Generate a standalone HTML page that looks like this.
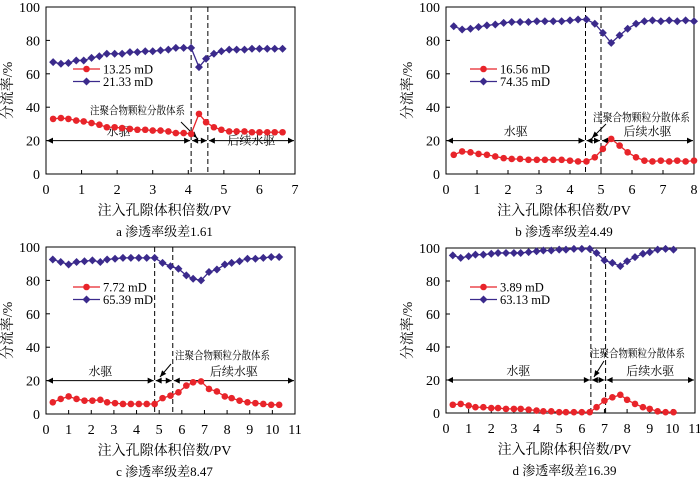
<!DOCTYPE html>
<html><head><meta charset="utf-8">
<style>
body{margin:0;background:#fff;}
svg{display:block;font-family:"Liberation Serif","Noto Serif CJK SC",serif;}
</style></head>
<body>
<svg id="c" width="700" height="479" viewBox="0 0 700 479" xmlns="http://www.w3.org/2000/svg"></svg>
<script>
// Panel a
const aX=[0.2,0.42,0.63,0.85,1.06,1.28,1.5,1.71,1.93,2.14,2.36,2.57,2.79,3.0,3.22,3.44,3.65,3.87,4.08,4.3,4.5,4.72,4.93,5.15,5.36,5.58,5.79,6.0,6.22,6.43,6.65];
const aRed=[33,33.5,33,32,31.5,30.5,29.5,28,28,27.5,27,26.5,26.5,26,26,25.5,24.5,24.5,24,36,31,28,26.5,25.5,25.5,25.5,25,25,25,25,25];
const aBlue=[67,66,66.5,68,68,69.5,70.5,72,72,72,73,73,73.5,73.5,74,74.5,75.5,75.5,75.5,64,69,72,73.5,74.5,74.5,74.5,75,75,75,75,75];
const aLegend=["13.25 mD","21.33 mD"];
const aXTicks=[0,1,2,3,4,5,6,7];
// Panel b
const bX=[0.25,0.52,0.79,1.05,1.32,1.59,1.86,2.12,2.39,2.66,2.93,3.19,3.46,3.73,4.0,4.26,4.53,4.8,5.06,5.33,5.6,5.86,6.13,6.4,6.66,6.93,7.2,7.46,7.73,8.0];
const bRed=[11.5,13.5,13,12,11.5,10.5,9.5,9,9,8.5,8.5,8.5,8.5,8.5,8,7.5,7.5,10,15,21,17,13,10,8,7.5,8,7.5,8,7.5,8];
const bBlue=[88.5,86.5,87,88,89,89.5,90.5,91,91,91,91.5,91.5,91.5,91.5,92,92.5,92.5,90,84.5,78.5,83,87,90,91.5,92,91.5,92,91.5,92,91.5];
const bLegend=["16.56 mD","74.35 mD"];
const bXTicks=[0,1,2,3,4,5,6,7,8];
// Panel c
const cX=[0.3,0.65,1.0,1.35,1.7,2.05,2.4,2.7,3.05,3.4,3.75,4.1,4.45,4.8,5.15,5.5,5.85,6.2,6.5,6.85,7.2,7.55,7.9,8.2,8.55,8.9,9.25,9.6,9.95,10.3];
const cRed=[7,9,10.5,9,8,8,8.5,7,6.5,6,6,6,6,6,9.5,11,13,17,19,19.5,15,13.5,10.5,9.5,8,7,6.5,6,5.5,5.5];
const cBlue=[92.5,91,89.5,91,91.5,92,91,92.5,93,93.5,93.5,93.5,93.5,93.5,90.5,88.5,87,83,81,80,85,86.5,89.5,90.5,91.5,93,93,93.5,94,94];
const cLegend=["7.72 mD","65.39 mD"];
const cXTicks=[0,1,2,3,4,5,6,7,8,9,10,11];
// Panel d
const dX=[0.3,0.65,1.0,1.3,1.65,2.0,2.3,2.65,3.0,3.3,3.65,4.0,4.3,4.65,5.0,5.3,5.65,6.0,6.35,6.65,7.0,7.35,7.7,8.0,8.35,8.7,9.0,9.35,9.7,10.05];
const dRed=[5,5.5,4.5,3.5,3.5,3,3,2.5,2.5,2.5,2,1.5,1,1,0.5,0.5,0.5,0.5,0.5,3.5,7.5,9.5,11,8,5.5,3.5,2.5,1,0.5,0.5];
const dBlue=[95.5,94,95,96,96,96.5,97,97,97,97,97.5,98,98.5,98.5,99,99,99.5,99.5,99.5,97,92.5,91,89,92,94.5,96.5,97.5,99,99.5,99];
const dLegend=["3.89 mD","63.13 mD"];
const dXTicks=[0,1,2,3,4,5,6,7,8,9,10,11];
const yTicks=[0,20,40,60,80,100];

const NS="http://www.w3.org/2000/svg";
const svg=document.getElementById('c');
function mk(tag,attrs,parent){const e=document.createElementNS(NS,tag);for(const k in attrs)e.setAttribute(k,attrs[k]);(parent||svg).appendChild(e);return e;}
function txt(s,attrs,parent){const e=mk('text',attrs,parent);e.textContent=s;return e;}

function panel(o){
  const g=mk('g',{});
  
  
  const xmax=o.ticks[o.ticks.length-1];
  const sx=v=>o.L+(o.R-o.L)*v/xmax;
  const sy=v=>o.B-(o.B-o.T)*v/100;
  yTicks.forEach(t=>{
    mk('line',{x1:o.L,x2:o.L+4,y1:sy(t),y2:sy(t),stroke:'#000'},g);
    const e=txt(t,{x:o.L-6,y:sy(t)+5,'text-anchor':'end','font-size':14},g);
    
    
  });
  o.ticks.forEach(t=>{
    mk('line',{x1:sx(t),x2:sx(t),y1:o.B,y2:o.B-4,stroke:'#000'},g);
    const e=txt(t,{x:sx(t),y:o.B+20,'text-anchor':'middle','font-size':14},g);
    
    
  });
  const fr=mk('rect',{x:o.L,y:o.T,width:o.R-o.L,height:o.B-o.T,fill:'none',stroke:'#000','stroke-width':1},g);
  
  
  o.v.forEach(v=>{
    const l=mk('line',{x1:sx(v),x2:sx(v),y1:o.T,y2:o.B,stroke:'#000','stroke-dasharray':'5,3'},g);
    
    
  });
  const yy=sy(20);
  const segs=[[0,o.v[0]],[o.v[0],o.v[1]],[o.v[1],xmax]];
  segs.forEach(s=>{
    const x1=sx(s[0])+1,x2=sx(s[1])-1;
    mk('line',{x1:x1,x2:x2,y1:yy,y2:yy,stroke:'#000'},g);
    mk('path',{d:`M${x1} ${yy}l6 -3v6z M${x2} ${yy}l-6 -3v6z`,fill:'#000'},g);
  });
  const mid1=(sx(0)+sx(o.v[0]))/2, mid3=(sx(o.v[1])+sx(xmax))/2;
  let e=txt('水驱',{x:mid1,y:yy-5,'text-anchor':'middle','font-size':12},g);
  
  e=txt('后续水驱',{x:mid3,y:o.id==='a'?yy+4:yy-5,'text-anchor':'middle','font-size':12},g);
  
  e=txt('注聚合物颗粒分散体系',{x:o.ann[0],y:o.ann[1],'font-size':11,textLength:o.ann[2],lengthAdjust:'spacingAndGlyphs'},g);
  
  mk('line',{x1:o.arr[0],y1:o.arr[1],x2:o.arr[2],y2:o.arr[3],stroke:'#000'},g);
  const ang=Math.atan2(o.arr[3]-o.arr[1],o.arr[2]-o.arr[0]);
  const ax=o.arr[2],ay=o.arr[3];
  mk('path',{d:`M${ax} ${ay}L${ax-7*Math.cos(ang-0.4)} ${ay-7*Math.sin(ang-0.4)}L${ax-7*Math.cos(ang+0.4)} ${ay-7*Math.sin(ang+0.4)}Z`,fill:'#000'},g);
  const series=[[o.red,'#e8242a','circle'],[o.blue,'#3b2a8c','diamond']];
  series.forEach(([vals,col,shape],si)=>{
    const p=mk('polyline',{points:vals.map((v,i)=>sx(o.x[i])+','+sy(v)).join(' '),fill:'none',stroke:col,'stroke-width':1.3},g);
    
    
    vals.forEach((v,i)=>{
      const cx=sx(o.x[i]),cy=sy(v);
      let m;
      if(shape==='circle')m=mk('circle',{cx:cx,cy:cy,r:3.3,fill:col},g);
      else m=mk('path',{d:`M${cx} ${cy-4}L${cx+4} ${cy}L${cx} ${cy+4}L${cx-4} ${cy}Z`,fill:col},g);
      
      
    });
  });
  [[0,'#e8242a','circle'],[1,'#3b2a8c','diamond']].forEach(([i,col,sh])=>{
    const ly=o.leg[1]+i*12.5, lx=o.leg[0];
    mk('line',{x1:lx,x2:lx+27,y1:ly,y2:ly,stroke:col,'stroke-width':1.3},g);
    if(sh==='circle')mk('circle',{cx:lx+13.5,cy:ly,r:3.3,fill:col},g);
    else mk('path',{d:`M${lx+13.5} ${ly-4}l4 4l-4 4l-4 -4z`,fill:col},g);
    const t=txt(o.legend[i],{x:lx+30,y:ly+4.5,'font-size':12.5},g);
    
    
  });
  const cxm=(o.L+o.R)/2;
  e=txt('注入孔隙体积倍数/PV',{x:cxm-6,y:o.B+41,'text-anchor':'middle','font-size':14},g);
  
  const ym=(o.T+o.B)/2;
  e=txt('分流率/%',{x:o.L-34,y:ym,'text-anchor':'middle','font-size':14,transform:`rotate(-90 ${o.L-34} ${ym})`},g);
  
  e=txt(o.cap,{x:cxm-6,y:o.B+62,'text-anchor':'middle','font-size':13},g);
  
}

panel({id:'a',L:46,R:295,T:7,B:174,ticks:aXTicks,x:aX,red:aRed,blue:aBlue,legend:aLegend,v:[4.08,4.55],leg:[73,69],ann:[90,114,95],arr:[181,122,197,138],cap:'a  渗透率级差1.61'});
panel({id:'b',L:446,R:694,T:7,B:174,ticks:bXTicks,x:bX,red:bRed,blue:bBlue,legend:bLegend,v:[4.5,5.0],leg:[470,69],ann:[593,121,97],arr:[606,124,592,138],cap:'b  渗透率级差4.49'});
panel({id:'c',L:46,R:295,T:247,B:414,ticks:cXTicks,x:cX,red:cRed,blue:cBlue,legend:cLegend,v:[4.8,5.6],leg:[73,287],ann:[175,359,95],arr:[171,364,160,377],cap:'c  渗透率级差8.47'});
panel({id:'d',L:446,R:695,T:248,B:413,ticks:dXTicks,x:dX,red:dRed,blue:dBlue,legend:dLegend,v:[6.4,7.05],leg:[470,287],ann:[590,357,95],arr:[604,361,594,377],cap:'d  渗透率级差16.39'});
</script>
</body></html>
